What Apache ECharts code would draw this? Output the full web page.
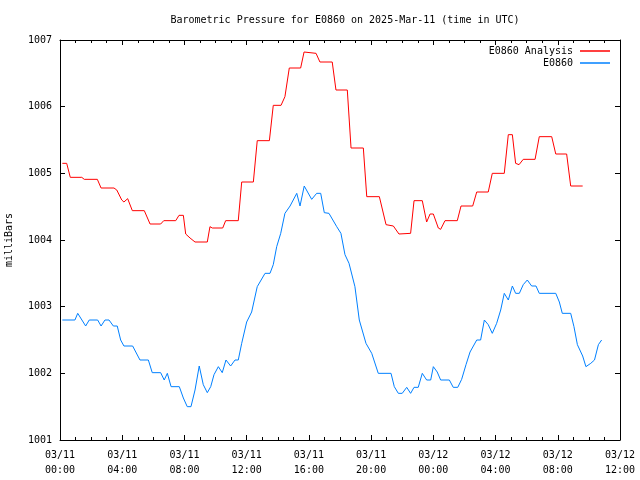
<!DOCTYPE html>
<html>
<head>
<meta charset="utf-8">
<script src="https://cdn.jsdelivr.net/npm/echarts@6/dist/echarts.min.js"></script>
<style>html,body{margin:0;padding:0;background:#fff}#c{width:640px;height:480px}</style>
</head>
<body>
<div id="c"></div>
<script>
// x values are hours since 2025-03-11 00:00 UTC
var xTickLabels = ['03/11\n00:00','03/11\n04:00','03/11\n08:00','03/11\n12:00','03/11\n16:00','03/11\n20:00','03/12\n00:00','03/12\n04:00','03/12\n08:00','03/12\n12:00'];
var yTicks = [1001,1002,1003,1004,1005,1006,1007];

var analysisHours = [0.15,0.43,0.66,1.40,1.56,2.40,2.64,3.47,3.65,3.97,4.11,4.35,4.65,5.42,5.79,6.47,6.67,7.44,7.65,7.93,8.08,8.36,8.68,9.47,9.64,9.79,10.46,10.65,11.46,11.68,12.43,12.68,13.46,13.71,14.21,14.46,14.74,15.47,15.69,15.81,16.46,16.71,17.50,17.74,18.47,18.71,19.50,19.72,20.53,20.96,21.43,21.79,22.54,22.76,23.29,23.57,23.79,24.00,24.32,24.47,24.75,25.54,25.78,26.53,26.79,27.53,27.79,28.56,28.82,29.08,29.29,29.51,29.78,30.54,30.81,31.61,31.87,32.57,32.83,33.60];
var analysisValues = [1005.15,1005.15,1004.94,1004.94,1004.91,1004.91,1004.78,1004.78,1004.75,1004.60,1004.57,1004.62,1004.44,1004.44,1004.24,1004.24,1004.29,1004.29,1004.37,1004.37,1004.09,1004.03,1003.97,1003.97,1004.20,1004.18,1004.18,1004.29,1004.29,1004.87,1004.87,1005.49,1005.49,1006.02,1006.02,1006.15,1006.58,1006.58,1006.82,1006.80,1006.80,1006.67,1006.67,1006.25,1006.25,1005.38,1005.38,1004.65,1004.65,1004.23,1004.21,1004.09,1004.10,1004.59,1004.59,1004.27,1004.39,1004.39,1004.18,1004.16,1004.29,1004.29,1004.51,1004.51,1004.72,1004.72,1005.00,1005.00,1005.58,1005.58,1005.15,1005.13,1005.21,1005.21,1005.55,1005.55,1005.29,1005.29,1004.81,1004.81];

var obsHours = [0.15,0.96,1.14,1.65,1.88,2.42,2.64,2.89,3.15,3.43,3.68,3.90,4.11,4.67,5.14,5.68,5.93,6.47,6.70,6.90,7.14,7.67,7.93,8.18,8.42,8.68,8.95,9.21,9.47,9.69,9.90,10.18,10.43,10.67,10.97,11.25,11.46,11.68,12.00,12.32,12.49,12.68,13.18,13.50,13.71,13.93,14.19,14.46,14.79,15.22,15.43,15.70,16.18,16.50,16.76,16.99,17.29,17.79,18.06,18.32,18.58,18.96,19.24,19.67,20.04,20.46,21.28,21.49,21.75,22.00,22.29,22.54,22.76,23.03,23.29,23.57,23.83,24.00,24.25,24.47,25.03,25.28,25.57,25.82,26.10,26.36,26.79,27.04,27.28,27.53,27.79,28.07,28.33,28.56,28.82,29.08,29.29,29.53,29.78,30.04,30.32,30.60,30.81,31.87,32.10,32.29,32.83,33.04,33.26,33.60,33.81,34.12,34.36,34.61,34.82];
var obsValues = [1002.80,1002.80,1002.90,1002.71,1002.80,1002.80,1002.71,1002.80,1002.80,1002.71,1002.71,1002.50,1002.41,1002.41,1002.20,1002.20,1002.01,1002.01,1001.90,1002.00,1001.80,1001.80,1001.63,1001.50,1001.50,1001.75,1002.11,1001.83,1001.71,1001.80,1001.98,1002.10,1002.01,1002.20,1002.11,1002.20,1002.20,1002.45,1002.77,1002.92,1003.10,1003.30,1003.50,1003.50,1003.63,1003.90,1004.10,1004.40,1004.51,1004.70,1004.51,1004.81,1004.61,1004.70,1004.70,1004.41,1004.40,1004.20,1004.10,1003.78,1003.65,1003.30,1002.80,1002.45,1002.30,1002.00,1002.00,1001.80,1001.70,1001.70,1001.79,1001.70,1001.79,1001.79,1002.00,1001.90,1001.90,1002.10,1002.02,1001.90,1001.90,1001.79,1001.79,1001.91,1002.13,1002.32,1002.50,1002.50,1002.80,1002.73,1002.60,1002.75,1002.95,1003.20,1003.10,1003.31,1003.20,1003.20,1003.33,1003.40,1003.31,1003.31,1003.20,1003.20,1003.07,1002.90,1002.90,1002.70,1002.43,1002.26,1002.10,1002.15,1002.20,1002.43,1002.50];

function pairs(xs, ys){ return xs.map(function(x,i){ return [x, ys[i]]; }); }

var FONT = '"DejaVu Sans Mono", "Liberation Mono", monospace';
var axisLineStyle = {color:'#000', width:1};
var chart = echarts.init(document.getElementById('c'), null, {renderer:'canvas'});
chart.setOption({
  animation: false,
  backgroundColor: '#fff',
  textStyle: {fontFamily: FONT},
  title: {
    text: 'Barometric Pressure for E0860 on 2025-Mar-11 (time in UTC)',
    left: 340, top: 10, textAlign: 'center',
    textStyle: {fontFamily: FONT, fontSize: 10, fontWeight: 'normal', color:'#000'}
  },
  legend: {
    orient: 'vertical', right: 25, top: 41, align: 'right',
    itemGap: 2, itemWidth: 30, itemHeight: 1.5, icon: 'rect',
    textStyle: {fontFamily: FONT, fontSize: 10, color:'#000', width: 92, align:'right', padding:[0,2,0,0]},
    data: ['E0860 Analysis', 'E0860']
  },
  grid: {left: 60, right: 20, top: 40, bottom: 40, containLabel: false, outerBoundsMode: 'none'},
  xAxis: [{
    type: 'value', min: 0, max: 36, interval: 4, position: 'bottom',
    axisLine: {show: true, onZero: false, lineStyle: axisLineStyle},
    axisTick: {show: true, inside: true, length: 5, lineStyle: axisLineStyle},
    minorTick: {show: true, splitNumber: 4, length: 3, lineStyle: axisLineStyle},
    splitLine: {show: false},
    axisLabel: {fontFamily: FONT, fontSize: 10, color:'#000', margin: 8, lineHeight: 15,
      formatter: function(v){ return xTickLabels[Math.round(v/4)]; }}
  },{
    type: 'value', min: 0, max: 36, interval: 4, position: 'top',
    axisLine: {show: true, onZero: false, lineStyle: axisLineStyle},
    axisTick: {show: true, inside: true, length: 5, lineStyle: axisLineStyle},
    minorTick: {show: true, splitNumber: 4, length: 3, lineStyle: axisLineStyle},
    splitLine: {show: false}, axisLabel: {show: false}
  }],
  yAxis: [{
    type: 'value', min: yTicks[0], max: yTicks[yTicks.length-1], interval: 1, position: 'left',
    name: 'milliBars', nameLocation: 'middle', nameRotate: 90, nameGap: 46,
    nameTextStyle: {fontFamily: FONT, fontSize: 10, color:'#000'},
    axisLine: {show: true, onZero: false, lineStyle: axisLineStyle},
    axisTick: {show: true, inside: true, length: 5, lineStyle: axisLineStyle},
    splitLine: {show: false},
    axisLabel: {fontFamily: FONT, fontSize: 10, color:'#000', margin: 8,
      formatter: function(v){ return String(v); }}
  },{
    type: 'value', min: yTicks[0], max: yTicks[yTicks.length-1], interval: 1, position: 'right',
    axisLine: {show: true, onZero: false, lineStyle: axisLineStyle},
    axisTick: {show: true, inside: true, length: 5, lineStyle: axisLineStyle},
    splitLine: {show: false}, axisLabel: {show: false}
  }],
  series: [{
    name: 'E0860 Analysis', type: 'line', xAxisIndex: 0, yAxisIndex: 0,
    data: pairs(analysisHours, analysisValues), showSymbol: false, symbol: 'none',
    lineStyle: {color: '#ff0000', width: 1}, itemStyle: {color: '#ff0000'}
  },{
    name: 'E0860', type: 'line', xAxisIndex: 0, yAxisIndex: 0,
    data: pairs(obsHours, obsValues), showSymbol: false, symbol: 'none',
    lineStyle: {color: '#0080ff', width: 1}, itemStyle: {color: '#0080ff'}
  }]
});
</script>
</body>
</html>
